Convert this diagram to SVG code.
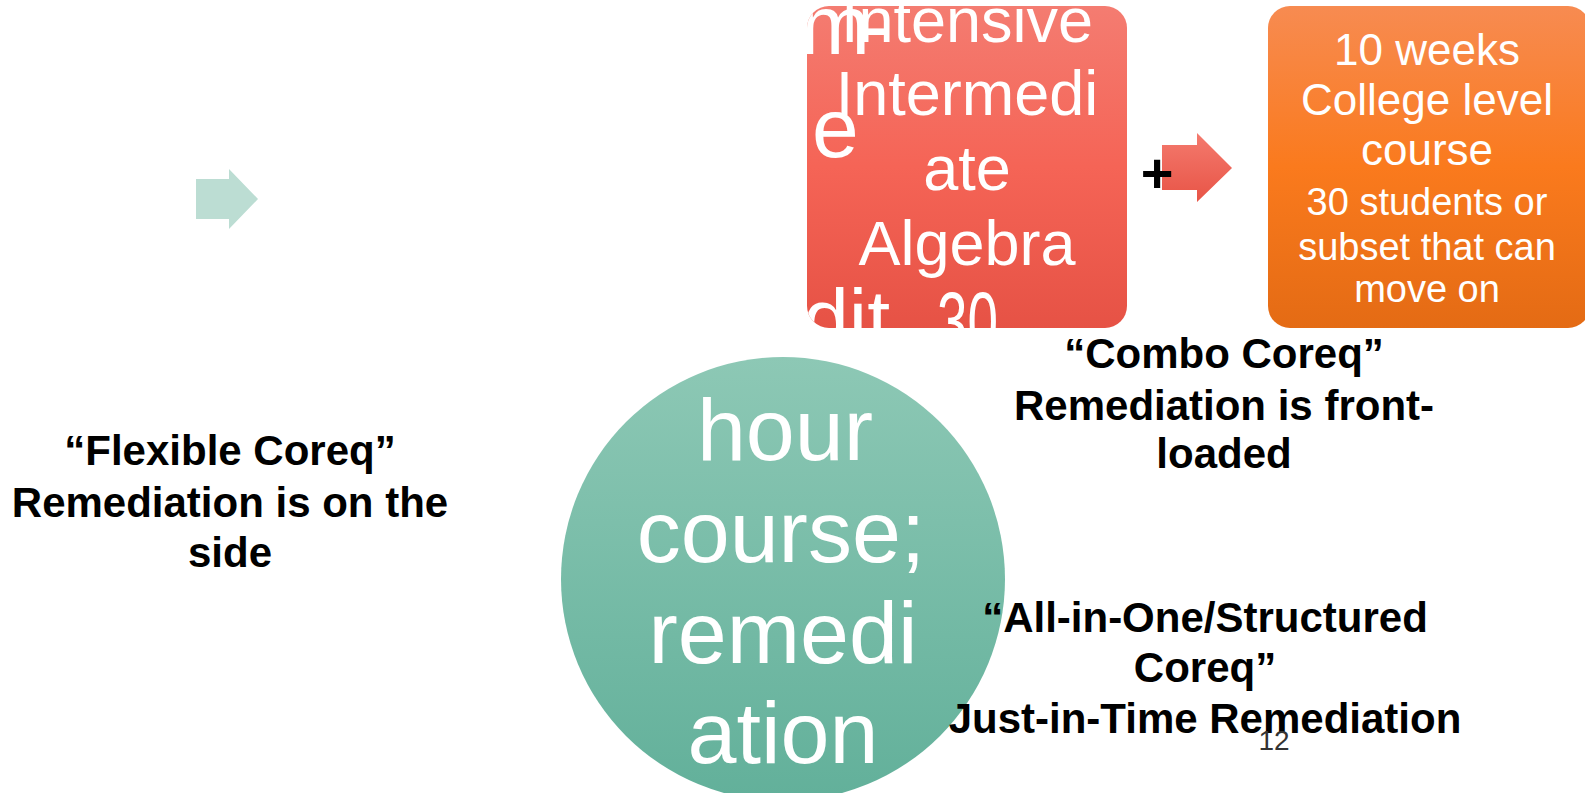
<svg xmlns="http://www.w3.org/2000/svg" width="1585" height="793" viewBox="0 0 1585 793">
  <defs>
    <linearGradient id="gRed" x1="0" y1="0" x2="0" y2="1">
      <stop offset="0" stop-color="#F47C71"/>
      <stop offset="0.5" stop-color="#F56456"/>
      <stop offset="1" stop-color="#E65245"/>
    </linearGradient>
    <linearGradient id="gOrange" x1="0" y1="0" x2="0" y2="1">
      <stop offset="0" stop-color="#F78B51"/>
      <stop offset="0.5" stop-color="#FA7A1D"/>
      <stop offset="1" stop-color="#E46B14"/>
    </linearGradient>
    <linearGradient id="gTeal" x1="0" y1="0" x2="0" y2="1">
      <stop offset="0" stop-color="#8DC8B5"/>
      <stop offset="1" stop-color="#62B09A"/>
    </linearGradient>
    <linearGradient id="gArrowRed" x1="0" y1="0" x2="0" y2="1">
      <stop offset="0" stop-color="#F47A6E"/>
      <stop offset="1" stop-color="#E85446"/>
    </linearGradient>
    <clipPath id="clipRed">
      <rect x="807" y="6" width="320" height="322" rx="22"/>
    </clipPath>
  </defs>
  <style>
    .w { fill: #FFFFFF; font-family: "Liberation Sans", Arial, sans-serif; text-anchor: middle; }
    .ws { fill: #FFFFFF; font-family: "Liberation Sans", Arial, sans-serif; text-anchor: start; }
    .lbl { fill: #000000; font-family: "Liberation Sans", Arial, sans-serif; font-weight: bold; font-size: 42px; text-anchor: middle; }
  </style>

  <g id="connectors">
    <polygon id="arrow-green" points="196,179 229,179 229,169 258,199 229,229 229,219 196,219" fill="#BCDDD3"/>
    <polygon id="arrow-red" points="1162,145 1197,145 1197,133 1232,168 1197,202 1197,190 1162,190" fill="url(#gArrowRed)"/>
  </g>

  <g id="node-intensive">
    <rect x="807" y="6" width="320" height="322" rx="22" fill="url(#gRed)"/>
    <g clip-path="url(#clipRed)">
      <text class="ws" font-size="84" x="800" y="54" textLength="90" lengthAdjust="spacing">m-</text>
      <text class="ws" font-size="84" x="812" y="157">e</text>
      <text class="ws" font-size="84" x="803" y="348" textLength="110" lengthAdjust="spacingAndGlyphs">dit,</text>
      <text class="ws" font-size="84" x="937" y="350" textLength="61" lengthAdjust="spacingAndGlyphs">30</text>
    </g>
    <text class="w" font-size="63" x="967" y="42">Intensive</text>
    <text class="w" font-size="63" x="967" y="115">Intermedi</text>
    <text class="w" font-size="63" x="967" y="190">ate</text>
    <text class="w" font-size="63" x="967" y="265">Algebra</text>
  </g>

  <g id="plus">
    <text x="1157" y="192" font-family="Liberation Sans, Arial, sans-serif" font-weight="bold" font-size="56" text-anchor="middle" fill="#000000">+</text>
  </g>

  <g id="node-college">
    <rect x="1268" y="6" width="322" height="322" rx="22" fill="url(#gOrange)"/>
    <text class="w" font-size="44" x="1427" y="65">10 weeks</text>
    <text class="w" font-size="44" x="1427" y="115">College level</text>
    <text class="w" font-size="44" x="1427" y="165">course</text>
    <text class="w" font-size="38" x="1427" y="215">30 students or</text>
    <text class="w" font-size="38" x="1427" y="260">subset that can</text>
    <text class="w" font-size="38" x="1427" y="302">move on</text>
  </g>

  <g id="node-circle">
    <circle cx="783" cy="579" r="222" fill="url(#gTeal)"/>
    <text class="w" font-size="88" x="785" y="460">hour</text>
    <text class="w" font-size="88" x="781" y="562">course;</text>
    <text class="w" font-size="88" x="783" y="663">remedi</text>
    <text class="w" font-size="88" x="783" y="763">ation</text>
  </g>

  <g id="label-flexible">
    <text class="lbl" x="230" y="465">“Flexible Coreq”</text>
    <text class="lbl" x="230" y="517">Remediation is on the</text>
    <text class="lbl" x="230" y="567">side</text>
  </g>

  <g id="label-combo">
    <text class="lbl" x="1224" y="368">“Combo Coreq”</text>
    <text class="lbl" x="1224" y="420">Remediation is front-</text>
    <text class="lbl" x="1224" y="468">loaded</text>
  </g>

  <g id="label-allinone">
    <text class="lbl" x="1205" y="632">“All-in-One/Structured</text>
    <text class="lbl" x="1205" y="682">Coreq”</text>
    <text class="lbl" x="1205" y="733">Just-in-Time Remediation</text>
  </g>

  <g id="page-number">
    <text x="1274" y="750" font-family="Liberation Sans, Arial, sans-serif" font-size="28" text-anchor="middle" fill="#333333">12</text>
  </g>
</svg>
